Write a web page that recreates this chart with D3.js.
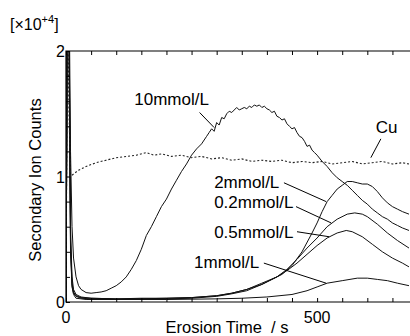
<!DOCTYPE html>
<html>
<head>
<meta charset="utf-8">
<script src="https://cdn.jsdelivr.net/npm/d3@7"></script>
<style>
  body { margin: 0; background: #fff; }
  text { font-family: "Liberation Sans", Arial, sans-serif; fill: #000; }
</style>
</head>
<body>
<svg id="chart" width="410" height="336"></svg>
<script>
// [t (s), counts x1e4]
const mmol10 = [[0,0],[3,2.6],[6,2.6],[9,1.2],[12,0.6],[15,0.35],[20,0.2],[25,0.13],[30,0.1],[40,0.075],[50,0.07],[60,0.075],[70,0.08],[80,0.09],[90,0.11],[100,0.13],[110,0.16],[120,0.2],[130,0.26],[140,0.33],[150,0.42],[160,0.53],[170,0.6],[180,0.68],[190,0.76],[200,0.82],[210,0.9],[220,0.97],[230,1.04],[240,1.1],[250,1.17],[260,1.22],[270,1.26],[280,1.32],[285,1.35],[290,1.38],[295,1.36],[300,1.43],[305,1.41],[310,1.47],[315,1.46],[320,1.5],[325,1.52],[330,1.51],[335,1.53],[340,1.55],[345,1.53],[350,1.54],[355,1.55],[360,1.54],[365,1.56],[370,1.55],[375,1.57],[380,1.56],[385,1.57],[390,1.55],[395,1.56],[400,1.54],[405,1.53],[410,1.51],[415,1.52],[420,1.48],[425,1.47],[430,1.45],[435,1.46],[440,1.42],[445,1.4],[450,1.38],[455,1.39],[460,1.35],[465,1.32],[470,1.31],[475,1.28],[480,1.24],[485,1.25],[490,1.21],[495,1.19],[500,1.17],[510,1.12],[520,1.08],[530,1.03],[540,0.99],[550,0.96],[560,0.93],[570,0.89],[580,0.85],[590,0.81],[600,0.78],[610,0.74],[620,0.71],[630,0.68],[640,0.66],[650,0.63],[660,0.61],[670,0.59],[683,0.57]];
const mmol2 = [[0,0],[3,2.6],[6,2.4],[9,0.6],[12,0.2],[15,0.1],[20,0.06],[30,0.04],[50,0.03],[100,0.025],[150,0.03],[200,0.03],[250,0.035],[300,0.05],[330,0.07],[360,0.1],[390,0.14],[410,0.18],[430,0.22],[450,0.29],[470,0.4],[490,0.55],[500,0.63],[510,0.72],[520,0.8],[530,0.85],[540,0.9],[550,0.93],[560,0.96],[570,0.96],[580,0.95],[590,0.94],[600,0.94],[610,0.92],[620,0.88],[630,0.83],[640,0.79],[650,0.76],[660,0.74],[670,0.72],[683,0.7]];
const mmol02 = [[0,0],[3,2.6],[6,2.3],[9,0.5],[12,0.15],[15,0.08],[20,0.05],[30,0.035],[50,0.03],[100,0.025],[150,0.025],[200,0.03],[250,0.035],[300,0.05],[330,0.07],[360,0.1],[390,0.15],[420,0.2],[440,0.26],[460,0.34],[480,0.43],[500,0.51],[520,0.6],[540,0.66],[560,0.7],[575,0.71],[590,0.7],[600,0.68],[620,0.62],[640,0.55],[660,0.49],[683,0.43]];
const mmol05 = [[0,0],[3,2.6],[6,2.2],[9,0.45],[12,0.13],[15,0.07],[20,0.045],[30,0.03],[50,0.025],[100,0.02],[150,0.025],[200,0.025],[250,0.03],[300,0.045],[330,0.065],[360,0.09],[390,0.14],[420,0.2],[440,0.25],[460,0.31],[480,0.38],[500,0.45],[520,0.51],[540,0.55],[558,0.57],[570,0.56],[590,0.52],[610,0.46],[630,0.4],[650,0.35],[670,0.31],[683,0.28]];
const mmol1 = [[0,0],[3,2.6],[6,2.0],[9,0.4],[12,0.12],[15,0.06],[20,0.03],[40,0.02],[100,0.02],[200,0.02],[300,0.025],[350,0.03],[400,0.04],[450,0.06],[480,0.09],[500,0.12],[520,0.15],[550,0.17],[580,0.19],[600,0.19],[620,0.18],[640,0.17],[660,0.15],[683,0.13]];
const cu = [[0,0],[3,2.5],[6,1.5],[9,1.0],[15,1.02],[25,1.05],[40,1.08],[60,1.11],[80,1.13],[100,1.15],[120,1.16],[140,1.17],[160,1.19],[175,1.17],[190,1.18],[210,1.16],[230,1.17],[250,1.15],[270,1.16],[290,1.14],[310,1.15],[330,1.13],[350,1.14],[370,1.12],[390,1.13],[410,1.12],[430,1.13],[450,1.11],[470,1.12],[490,1.11],[510,1.12],[530,1.1],[550,1.11],[570,1.12],[590,1.1],[610,1.11],[630,1.12],[650,1.1],[670,1.11],[683,1.1]];

const seriesList = [mmol10, mmol2, mmol02, mmol05, mmol1];
const xTicks = [0,50,100,150,200,250,300,350,400,450,500,550,600,650];
const xTickLabels = [0, 500];
const yTicks = [0,0.2,0.4,0.6,0.8,1,1.2,1.4,1.6,1.8,2];
const yTickLabels = [0, 1, 2];

// label text, text anchor [t, v], leader from [t, v] to [t, v]
const labels = [
  {text: "10mmol/L", at: [136, 1.57], from: [266, 1.51], to: [295, 1.39]},
  {text: "Cu",       at: [617, 1.35], from: [627, 1.3], to: [607, 1.15]},
  {text: "2mmol/L",  at: [295, 0.91], from: [434, 0.95], to: [518, 0.8]},
  {text: "0.2mmol/L",at: [295, 0.75], from: [458, 0.76], to: [528, 0.63]},
  {text: "0.5mmol/L",at: [295, 0.51], from: [460, 0.56], to: [524, 0.52]},
  {text: "1mmol/L",  at: [255, 0.27], from: [394, 0.31], to: [518, 0.15]}
];

const svg = d3.select('#chart');
const pLeft = 66, pRight = 410, pTop = 51, pBottom = 302;

const x = d3.scaleLinear().domain([0, 685]).range([pLeft, pRight]);
const y = d3.scaleLinear().domain([0, 2]).range([pBottom, pTop]);

svg.append('clipPath').attr('id', 'clip')
  .append('rect').attr('x', pLeft).attr('y', pTop).attr('width', pRight - pLeft).attr('height', pBottom - pTop);

const line = d3.line().x(d => x(d[0])).y(d => y(d[1]));

const plot = svg.append('g').attr('clip-path', 'url(#clip)');
plot.selectAll('path.s')
  .data(seriesList)
  .enter().append('path')
  .attr('class', 's')
  .attr('d', line)
  .attr('fill', 'none')
  .attr('stroke', '#111')
  .attr('stroke-width', 1);

plot.append('path')
  .attr('d', line(cu))
  .attr('fill', 'none')
  .attr('stroke', '#222')
  .attr('stroke-width', 1.1)
  .attr('stroke-dasharray', '2,2');

// frame
svg.append('path')
  .attr('d', `M${pRight},${pTop}H${pLeft}V${pBottom}H${pRight}`)
  .attr('fill', 'none').attr('stroke', '#000').attr('stroke-width', 1.2);

// axes (ticks inward)
const xAxisB = d3.axisBottom(x).tickValues(xTicks).tickSize(-4).tickFormat('');
svg.append('g').attr('transform', `translate(0,${pBottom})`).call(xAxisB)
  .call(g => g.select('.domain').remove());
const xAxisT = d3.axisTop(x).tickValues(xTicks).tickSize(-4).tickFormat('');
svg.append('g').attr('transform', `translate(0,${pTop})`).call(xAxisT)
  .call(g => g.select('.domain').remove());
const yAxis = d3.axisLeft(y).tickValues(yTicks).tickSize(-4).tickFormat('');
svg.append('g').attr('transform', `translate(${pLeft},0)`).call(yAxis)
  .call(g => g.select('.domain').remove());

svg.selectAll('text.xl')
  .data(xTickLabels).enter().append('text')
  .attr('class', 'xl')
  .attr('x', d => x(d)).attr('y', pBottom + 21)
  .attr('text-anchor', 'middle').attr('font-size', 16)
  .text(d => d);

svg.selectAll('text.yl')
  .data(yTickLabels).enter().append('text')
  .attr('class', 'yl')
  .attr('x', pLeft - 1).attr('y', d => y(d) + 6)
  .attr('text-anchor', 'end').attr('font-size', 16)
  .text(d => d);

// titles
svg.append('text')
  .attr('x', 227).attr('y', 333)
  .attr('text-anchor', 'middle').attr('font-size', 16.5)
  .text('Erosion Time\u00a0\u00a0/ s');

svg.append('text')
  .attr('transform', 'translate(41,180) rotate(-90)')
  .attr('text-anchor', 'middle').attr('font-size', 16.5)
  .text('Secondary Ion Counts');

const mult = svg.append('text').attr('x', 10).attr('y', 30).attr('font-size', 16);
mult.append('tspan').text('[\u00d710');
mult.append('tspan').attr('font-size', 11).attr('dy', -7).text('+4');
mult.append('tspan').attr('dy', 7).text(']');

// annotations
svg.selectAll('line.lead')
  .data(labels).enter().append('line')
  .attr('class', 'lead')
  .attr('x1', d => x(d.from[0])).attr('y1', d => y(d.from[1]))
  .attr('x2', d => x(d.to[0])).attr('y2', d => y(d.to[1]))
  .attr('stroke', '#000').attr('stroke-width', 1);

svg.selectAll('text.lab')
  .data(labels).enter().append('text')
  .attr('class', 'lab')
  .attr('x', d => x(d.at[0])).attr('y', d => y(d.at[1]))
  .attr('font-size', 17)
  .text(d => d.text);
</script>
</body>
</html>
